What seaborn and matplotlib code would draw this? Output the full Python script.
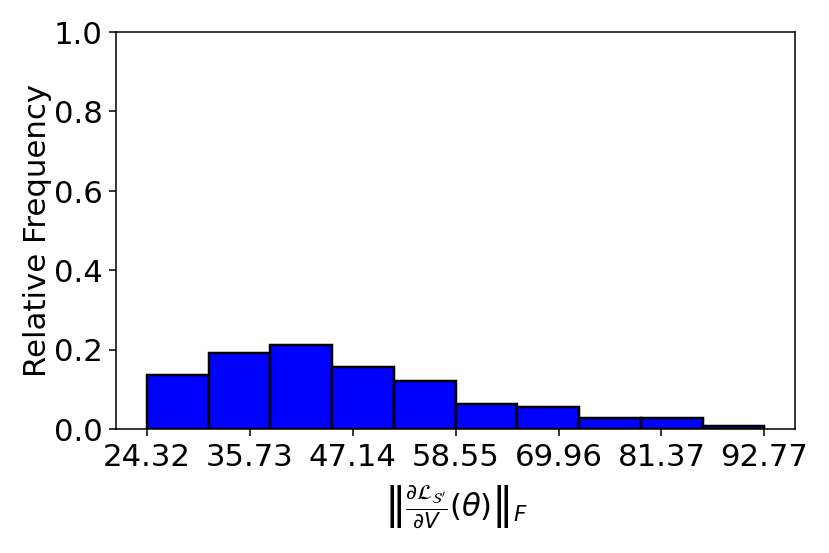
import numpy as np
import pandas as pd
import matplotlib
matplotlib.use("Agg")
import matplotlib.pyplot as plt
import seaborn as sns

# data
x_min = 24.3245
x_max = 92.7745
n_bins = 10
rel_freq = [0.136, 0.191, 0.212, 0.157, 0.120, 0.064, 0.055, 0.027, 0.027, 0.007]

edges = np.linspace(x_min, x_max, n_bins + 1)
centers = (edges[:-1] + edges[1:]) / 2
tick_vals = np.linspace(x_min, x_max, 7)
tick_labels = ['%.2f' % t for t in tick_vals]

df = pd.DataFrame({'norm': centers, 'freq': rel_freq})

fig, ax = plt.subplots(figsize=(6.0, 4.0), dpi=138.33)
sns.histplot(data=df, x='norm', weights='freq', bins=list(edges), color='blue',
             edgecolor='black', linewidth=1.3, alpha=1, ax=ax)

ax.set_ylim(0, 1.0)
ax.set_xticks(tick_vals)
ax.set_xticklabels(tick_labels)
ax.tick_params(labelsize=16)
ax.set_ylabel('Relative Frequency', fontsize=16, labelpad=1)
ax.set_xlabel(r"$\left\|\frac{\partial \mathcal{L}_{\mathcal{S}'}}{\partial V}(\theta)\right\|_F$",
              fontsize=16, labelpad=6)

fig.subplots_adjust(left=0.140, right=0.958, top=0.942, bottom=0.224)
fig.savefig('out.png', dpi=138.33)
